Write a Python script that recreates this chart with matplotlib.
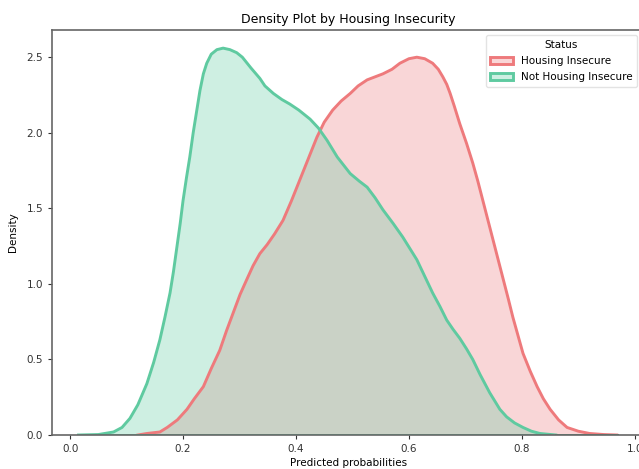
import matplotlib
matplotlib.use("Agg")
import matplotlib.pyplot as plt
from matplotlib.colors import to_rgba
from matplotlib.patches import Patch

# density curves
secure_x = [0.015, 0.050, 0.077, 0.092, 0.106, 0.120, 0.136, 0.148, 0.159, 0.168,
            0.177, 0.183, 0.189, 0.195, 0.200, 0.206, 0.212, 0.218, 0.224, 0.230,
            0.236, 0.242, 0.250, 0.260, 0.271, 0.283, 0.295, 0.305, 0.320, 0.336,
            0.345, 0.360, 0.375, 0.389, 0.405, 0.425, 0.440, 0.455, 0.473, 0.496,
            0.512, 0.526, 0.540, 0.554, 0.572, 0.589, 0.614, 0.628, 0.642, 0.655,
            0.667, 0.678, 0.690, 0.702, 0.713, 0.726, 0.743, 0.761, 0.773, 0.787,
            0.802, 0.817, 0.832, 0.860]
secure_y = [0.0, 0.003, 0.02, 0.05, 0.11, 0.20, 0.34, 0.48, 0.63, 0.78,
            0.94, 1.08, 1.24, 1.40, 1.55, 1.70, 1.84, 2.00, 2.14, 2.28,
            2.39, 2.46, 2.52, 2.55, 2.56, 2.55, 2.53, 2.50, 2.43, 2.36,
            2.31, 2.26, 2.22, 2.19, 2.15, 2.09, 2.03, 1.95, 1.84, 1.73,
            1.68, 1.64, 1.57, 1.49, 1.40, 1.31, 1.16, 1.05, 0.94, 0.85,
            0.76, 0.70, 0.64, 0.57, 0.50, 0.40, 0.28, 0.17, 0.12, 0.08,
            0.05, 0.025, 0.01, 0.0]

insecure_x = [0.120, 0.136, 0.159, 0.172, 0.190, 0.207, 0.220, 0.236, 0.250, 0.265,
              0.277, 0.289, 0.301, 0.313, 0.324, 0.336, 0.349, 0.362, 0.377, 0.392,
              0.407, 0.422, 0.437, 0.450, 0.465, 0.480, 0.496, 0.510, 0.526, 0.540,
              0.554, 0.570, 0.584, 0.600, 0.614, 0.628, 0.642, 0.652, 0.660, 0.667,
              0.673, 0.680, 0.690, 0.702, 0.713, 0.722, 0.731, 0.740, 0.749, 0.758,
              0.767, 0.776, 0.784, 0.793, 0.802, 0.815, 0.827, 0.838, 0.850, 0.865,
              0.880, 0.900, 0.920, 0.945, 0.968]
insecure_y = [0.0, 0.01, 0.02, 0.05, 0.10, 0.17, 0.24, 0.32, 0.44, 0.56,
              0.69, 0.81, 0.93, 1.03, 1.12, 1.20, 1.26, 1.33, 1.42, 1.55,
              1.69, 1.83, 1.97, 2.07, 2.15, 2.21, 2.26, 2.31, 2.35, 2.37,
              2.39, 2.42, 2.46, 2.49, 2.50, 2.49, 2.46, 2.42, 2.37, 2.32,
              2.26, 2.18, 2.06, 1.93, 1.80, 1.68, 1.55, 1.42, 1.29, 1.16,
              1.03, 0.90, 0.78, 0.66, 0.54, 0.42, 0.32, 0.24, 0.17, 0.10,
              0.05, 0.025, 0.01, 0.003, 0.0]

labels = ["Housing Insecure", "Not Housing Insecure"]
colors = ["#ee7a7c", "#5fcaa0"]
LW = 2.1

fig = plt.figure(figsize=(6.39, 4.69), dpi=100)
ax = fig.add_axes([52 / 639, 34 / 469, 593 / 639, 405 / 469])

ax.fill_between(insecure_x, insecure_y, facecolor=colors[0], alpha=0.3, edgecolor="none")
ax.plot(insecure_x, insecure_y, color=colors[0], lw=LW, solid_joinstyle="round")
ax.plot([insecure_x[0], insecure_x[-1]], [0, 0], color=colors[0], lw=LW)
ax.fill_between(secure_x, secure_y, facecolor=colors[1], alpha=0.3, edgecolor="none")
ax.plot(secure_x, secure_y, color=colors[1], lw=LW, solid_joinstyle="round")
ax.plot([secure_x[0], secure_x[-1]], [0, 0], color=colors[1], lw=LW)
ax.plot([secure_x[-1], insecure_x[-1]], [0, 0], color="#4f9e80", lw=LW)

ax.set_xlim(-0.032, 1.018)
ax.set_ylim(0, 2.68)
ax.set_xticks([0.0, 0.2, 0.4, 0.6, 0.8, 1.0])
ax.set_yticks([0.0, 0.5, 1.0, 1.5, 2.0, 2.5])
ax.tick_params(labelsize=7.5, colors="#333333", length=3)
for s in ax.spines.values():
    s.set_color("#666666")
    s.set_linewidth(1.2)

ax.set_title("Density Plot by Housing Insecurity", fontsize=9, pad=5)
ax.set_xlabel("Predicted probabilities", fontsize=7.5, labelpad=3)
ax.set_ylabel("Density", fontsize=7.5, labelpad=6)

handles = [Patch(facecolor=to_rgba(c, 0.3), edgecolor=c, linewidth=LW) for c in colors]
leg = ax.legend(handles, labels, title="Status", loc="upper right", fontsize=7.5,
                title_fontsize=7.5, bbox_to_anchor=(637 / 639, 434 / 469),
                bbox_transform=fig.transFigure, borderaxespad=0.0,
                handlelength=2.2, handleheight=0.6, handletextpad=0.7,
                labelspacing=0.6, borderpad=0.45)
leg.get_frame().set_edgecolor("#dddddd")

fig.savefig("out.png", dpi=100)
